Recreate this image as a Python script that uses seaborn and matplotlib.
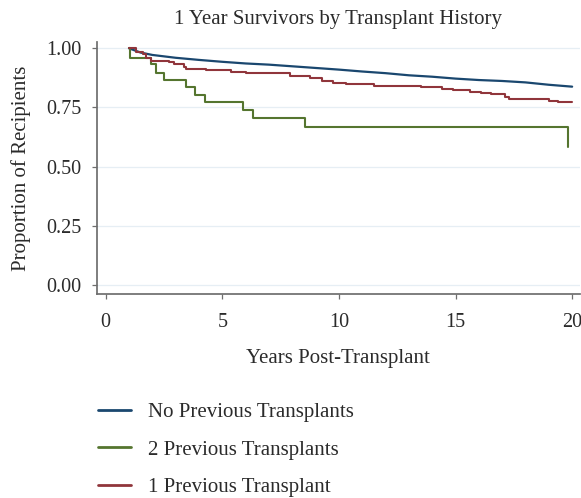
import matplotlib
matplotlib.use("Agg")
import matplotlib.pyplot as plt
import seaborn as sns
import pandas as pd

# Kaplan-Meier style survival curves
blue_t = [1.0, 1.5, 2.0, 3.0, 4.0, 5.0, 6.0, 7.0, 8.0, 9.0, 10.0, 11.0, 12.0,
          13.0, 14.0, 15.0, 16.0, 17.0, 18.0, 19.0, 20.0]
blue_s = [1.0, 0.982, 0.972, 0.960, 0.951, 0.943, 0.936, 0.931, 0.924, 0.917,
          0.910, 0.902, 0.895, 0.886, 0.880, 0.872, 0.866, 0.862, 0.856, 0.846, 0.838]

green_t = [1.0, 1.06, 1.93, 2.17, 2.51, 3.43, 3.81, 4.26, 5.90, 6.30, 8.54, 19.83]
green_s = [1.0, 0.959, 0.932, 0.897, 0.866, 0.835, 0.804, 0.774, 0.739, 0.704, 0.667, 0.584]

red_t = [1.0, 1.3, 1.58, 1.72, 1.93, 2.71, 2.93, 3.36, 3.43, 4.29, 5.36, 6.0, 7.9,
         8.76, 9.26, 9.76, 10.3, 11.5, 13.5, 14.4, 14.9, 15.6, 16.1, 16.5, 17.1,
         17.3, 19.0, 19.4, 20.0]
red_s = [1.0, 0.984, 0.974, 0.960, 0.947, 0.941, 0.932, 0.921, 0.913, 0.908, 0.901,
         0.894, 0.884, 0.873, 0.862, 0.855, 0.848, 0.842, 0.835, 0.828, 0.824, 0.817,
         0.810, 0.806, 0.796, 0.785, 0.779, 0.772, 0.772]

labels = ["No Previous Transplants", "2 Previous Transplants", "1 Previous Transplant"]
colors = {"No Previous Transplants": "#1a476f",
          "2 Previous Transplants": "#55752f",
          "1 Previous Transplant": "#90353b"}

x_ticks = [0, 5, 10, 15, 20]
y_ticks = [0.0, 0.25, 0.5, 0.75, 1.0]

sns.set_theme(style="white")
plt.rcParams['font.family'] = ['Liberation Serif', 'DejaVu Serif']
text_col = "#2b2b2b"

df_blue = pd.DataFrame({"t": blue_t, "s": blue_s, "grp": labels[0]})
df_steps = pd.concat([
    pd.DataFrame({"t": green_t, "s": green_s, "grp": labels[1]}),
    pd.DataFrame({"t": red_t, "s": red_s, "grp": labels[2]}),
])

fig = plt.figure(figsize=(5.81, 4.98), dpi=100)
ax = fig.add_axes([0.1664, 0.4096, 0.8316, 0.5067])

sns.lineplot(data=df_blue, x="t", y="s", hue="grp", palette=colors, estimator=None,
             linewidth=1.6, ax=ax, legend=False)
sns.lineplot(data=df_steps, x="t", y="s", hue="grp", palette=colors, estimator=None,
             drawstyle="steps-post", linewidth=1.5, ax=ax, legend=False)

ax.set_xlim(-0.385, 20.33)
ax.set_ylim(-0.038, 1.028)
ax.set_xticks(x_ticks)
ax.set_yticks(y_ticks)
ax.set_xticklabels([str(v) for v in x_ticks])
ax.set_yticklabels([f"{v:.2f}" for v in y_ticks])

for yv in y_ticks:
    ax.axhline(yv, color="#e6eef4", linewidth=0.9, zorder=0)

sns.despine(ax=ax, top=True, right=True)
ax.spines['left'].set_color("#6e6e6e")
ax.spines['bottom'].set_color("#6e6e6e")
ax.tick_params(axis="both", direction="out", length=3.6, width=0.9, color="#6e6e6e",
               labelsize=14.5, labelcolor=text_col, left=True, bottom=True)
ax.tick_params(axis="x", pad=10)
ax.tick_params(axis="y", pad=7.5)

ax.set_title("1 Year Survivors by Transplant History", fontsize=15, color=text_col, pad=12.5)
ax.set_xlabel("Years Post-Transplant", fontsize=15, color=text_col, labelpad=12)
ax.set_ylabel("Proportion of Recipients", fontsize=15, color=text_col, labelpad=10.5)

handles = [plt.Line2D([], [], color=colors[l], linewidth=2) for l in labels]
fig.legend(handles, labels, loc="upper left", bbox_to_anchor=(0.136, 0.229),
           frameon=False, fontsize=15, handlelength=1.6, handletextpad=0.8,
           labelspacing=0.85, labelcolor=text_col)

fig.savefig("out.png", dpi=100)
